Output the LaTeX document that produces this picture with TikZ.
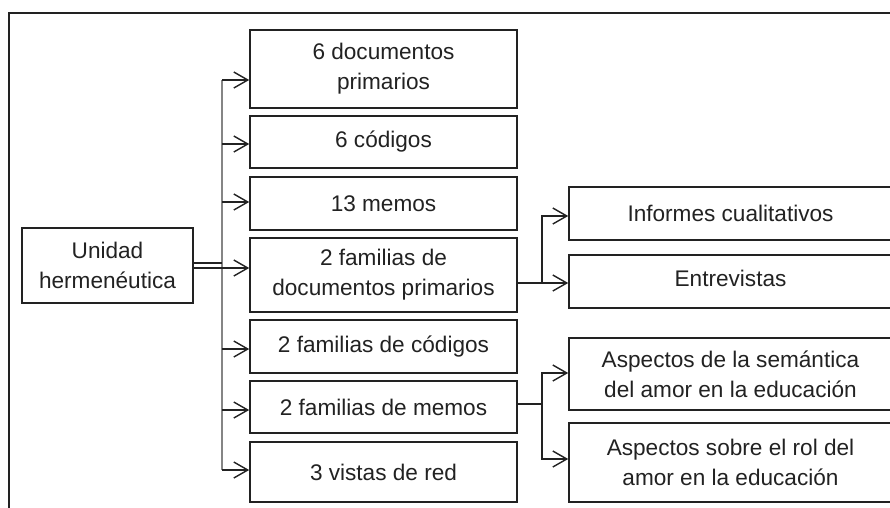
\documentclass[tikz,border=0pt]{standalone}
\usepackage{fontspec}
\setmainfont{Liberation Sans}
\usetikzlibrary{arrows.meta}
\definecolor{ink}{HTML}{222222}
\definecolor{trunkc}{HTML}{858585}
\begin{document}
\begin{tikzpicture}[x=1pt,y=-1pt,
  box/.style={draw=ink, line width=1.6pt, fill=white, inner sep=0pt, align=center,
    font=\fontsize{22.6}{30}\selectfont, text=ink},
  rbox/.style={box, minimum width=328pt},
  txt/.style={inner sep=0pt, align=center, font=\fontsize{22.6}{30}\selectfont, text=ink},
  lnk/.style={draw=ink, line width=1.4pt},
  trunk/.style={draw=trunkc, line width=2pt},
  arr/.style={lnk, -{Straight Barb[length=14pt,width=16pt]}},
]
\useasboundingbox (0,0) rectangle (890,507);
\clip (0,0) rectangle (890,507);
% outer frame
\coordinate (fbl) at (9,560);
\coordinate (ftl) at (9,13);
\coordinate (ftr) at (950,13);
\draw[lnk] (fbl) -- (ftl) -- (ftr);

% left node
\node[box, minimum width=171pt, minimum height=75pt] (u) at (107.5,265.5) {Unidad\\hermenéutica};

% middle column
\node[box, minimum width=267pt, minimum height=78pt] (b1) at (383.5,69) {6 documentos\\primarios};
\node[box, minimum width=267pt, minimum height=52pt] (b2) at (383.5,142) {6 códigos};
\node[box, minimum width=267pt, minimum height=53pt] (b3) at (383.5,203.5) {13 memos};
\node[box, minimum width=267pt, minimum height=74pt] (b4) at (383.5,275) {2 familias de\\documentos primarios};
\node[box, minimum width=267pt, minimum height=53pt] (b5) at (383.5,346.5) {2 familias de códigos};
\node[box, minimum width=267pt, minimum height=52pt] (b6) at (383.5,407) {2 familias de memos};
\node[box, minimum width=267pt, minimum height=60pt] (b7) at (383.5,472) {3 vistas de red};

% right column (extends past the right edge)
\node[rbox, minimum height=53pt] (r1) at (733,213.5) {\hspace*{-5pt}Informes cualitativos};
\node[rbox, minimum height=53pt] (r2) at (733,281.5) {};
\node[txt] (r2t) at (730.5,278) {Entrevistas};
\node[rbox, minimum height=72pt] (r3) at (733,374) {\hspace*{-5pt}Aspectos de la semántica\\\hspace*{-5pt}del amor en la educación};
\node[rbox, minimum height=79pt] (r4) at (733,462.5) {\hspace*{-5pt}Aspectos sobre el rol del\\\hspace*{-5pt}amor en la educación};

% trunk
\coordinate (ue) at (193,263);
\coordinate (tj) at (222,263);
\coordinate (t1) at (222,80);
\coordinate (t2) at (222,144);
\coordinate (t3) at (222,202);
\coordinate (t5) at (222,349);
\coordinate (t6) at (222,410);
\coordinate (t7) at (222,470);
\coordinate (u4) at (193,268);
\draw[trunk] (t1) -- (t7);
\draw[lnk] (ue) -- (tj);
\draw[arr] (t1) -- (t1 -| b1.west);
\draw[arr] (t2) -- (t2 -| b2.west);
\draw[arr] (t3) -- (t3 -| b3.west);
\draw[arr] (u4) -- (u4 -| b4.west);
\draw[arr] (t5) -- (t5 -| b5.west);
\draw[arr] (t6) -- (t6 -| b6.west);
\draw[arr] (t7) -- (t7 -| b7.west);

% branch from b4
\coordinate (b4o) at (517,283);
\coordinate (j4) at (542,283);
\coordinate (j4t) at (542,216);
\draw[arr] (b4o) -- (b4o -| r2.west);
\draw[arr] (j4) -- (j4t) -- (j4t -| r1.west);

% branch from b6
\coordinate (b6o) at (517,404);
\coordinate (j6) at (542,404);
\coordinate (j6t) at (542,373);
\coordinate (j6b) at (542,459);
\draw[lnk] (b6o) -- (j6);
\draw[arr] (j6) -- (j6t) -- (j6t -| r3.west);
\draw[arr] (j6) -- (j6b) -- (j6b -| r4.west);
\end{tikzpicture}
\end{document}
